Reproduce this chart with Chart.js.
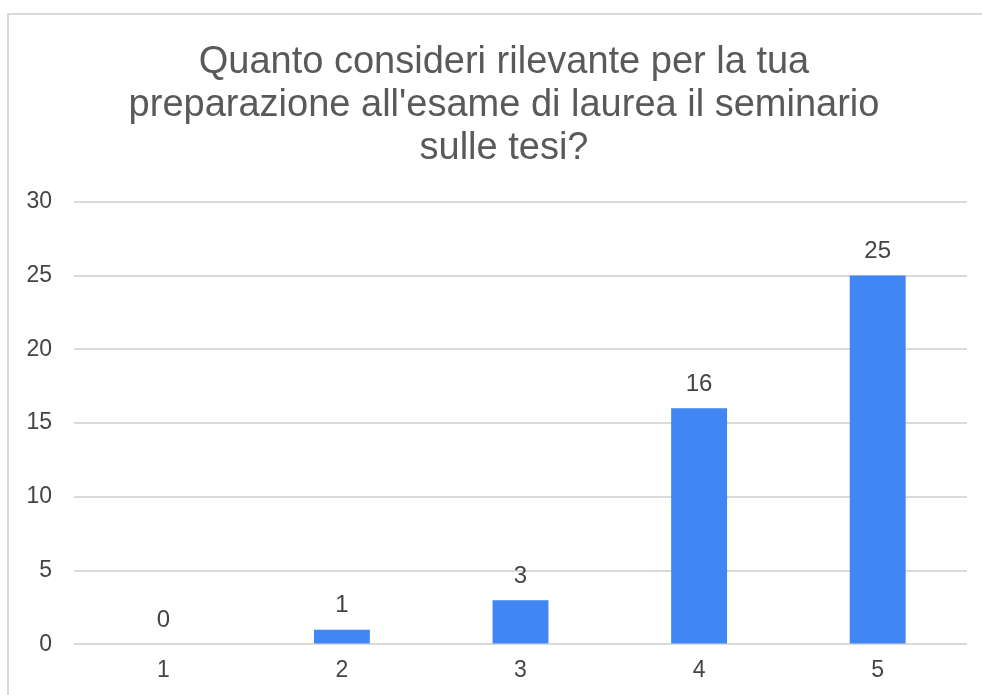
<!DOCTYPE html>
<html>
<head>
<meta charset="utf-8">
<script src="https://cdn.jsdelivr.net/npm/chart.js@4/dist/chart.umd.min.js"></script>
<style>
  body { margin: 0; overflow: hidden; background: #fff; }
  #frame {
    position: absolute; left: 7px; top: 13px;
    width: 1000px; height: 700px;
    border-top: 2px solid #d9d9d9; border-left: 2px solid #d9d9d9;
  }
  #chart-outer { position: absolute; left: 0; top: 0; width: 990px; height: 694px; }
</style>
</head>
<body>
<div id="frame">
  <div id="chart-outer"><canvas id="chart-area"></canvas></div>
</div>
<script>
const chartTitle = ["Quanto consideri rilevante per la tua", "preparazione all'esame di laurea il seminario", "sulle tesi?"];
const categories = ["1", "2", "3", "4", "5"];
const counts = [0, 1, 3, 16, 25];
const yTicks = [0, 5, 10, 15, 20, 25, 30];

const fontFamily = "'Liberation Sans', Arial, sans-serif";

// scrive il valore sopra ogni barra
const valueLabels = {
  id: 'valueLabels',
  afterDatasetsDraw(chart) {
    const ctx = chart.ctx;
    const meta = chart.getDatasetMeta(0);
    ctx.save();
    ctx.font = '24px ' + fontFamily;
    ctx.fillStyle = '#444444';
    ctx.textAlign = 'center';
    ctx.textBaseline = 'middle';
    meta.data.forEach((bar, i) => {
      ctx.fillText(String(counts[i]), bar.x, bar.y - 24);
    });
    ctx.restore();
  }
};

const chart = new Chart(document.getElementById('chart-area'), {
  type: 'bar',
  data: {
    labels: categories,
    datasets: [{
      data: counts,
      backgroundColor: '#4285f4',
      borderWidth: 0,
      categoryPercentage: 1,
      barPercentage: 0.313
    }]
  },
  plugins: [valueLabels],
  options: {
    responsive: true,
    maintainAspectRatio: false,
    animation: false,
    layout: { padding: { left: 13, right: 13, top: 0, bottom: 13 } },
    plugins: {
      legend: { display: false },
      tooltip: { enabled: false },
      title: {
        display: true,
        text: chartTitle,
        color: '#595959',
        font: { family: fontFamily, size: 38, weight: 'normal', lineHeight: 1.13 },
        padding: { top: 26, bottom: 32 }
      }
    },
    scales: {
      x: {
        grid: { display: false, drawTicks: false },
        border: { display: false },
        ticks: { color: '#444444', padding: 12, font: { family: fontFamily, size: 23 } }
      },
      y: {
        min: 0,
        max: 30,
        afterBuildTicks(scale) { scale.ticks = yTicks.map(v => ({ value: v })); },
        afterFit(scale) { scale.width = 52; },
        grid: { color: '#dadada', lineWidth: 2, drawTicks: false },
        border: { display: false },
        ticks: { color: '#444444', padding: 22, font: { family: fontFamily, size: 23 } }
      },
      // asse vuoto a destra, solo per lo spazio
      y2: {
        position: 'right',
        afterFit(scale) { scale.width = 19; },
        grid: { display: false, drawTicks: false },
        border: { display: false },
        ticks: { display: false }
      }
    }
  }
});
</script>
</body>
</html>
